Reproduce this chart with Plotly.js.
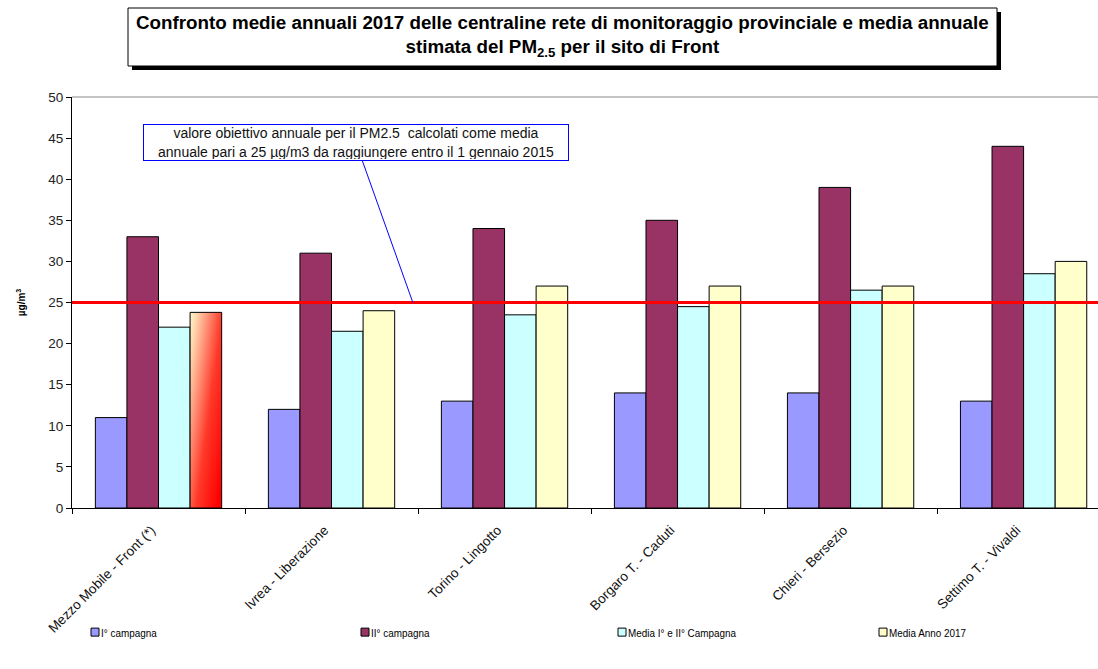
<!DOCTYPE html>
<html>
<head>
<meta charset="utf-8">
<script src="https://cdn.plot.ly/plotly-3.0.1.min.js"></script>
<style>html,body{margin:0;padding:0;background:#fff;}#chart{width:1098px;height:669px;}</style>
</head>
<body>
<div id="chart"></div>
<script>
const categories = ["Mezzo Mobile - Front (*)", "Ivrea - Liberazione", "Torino - Lingotto", "Borgaro T. - Caduti", "Chieri - Bersezio", "Settimo T. - Vivaldi"];
const seriesNames = ["I° campagna", "II° campagna", "Media I° e II° Campagna", "Media Anno 2017"];
const campagna1 = [11, 12, 13, 14, 14, 13];
const campagna2 = [33, 31, 34, 35, 39, 44];
const mediaCampagne = [22, 21.5, 23.5, 24.5, 26.5, 28.5];
const mediaAnno = [23.8, 24, 27, 27, 27, 30];
const limitValue = 25;
const yTicks = [0, 5, 10, 15, 20, 25, 30, 35, 40, 45, 50];

const colors = ["#9999FF", "#993366", "#CCFFFF", "#FFFFCC"];
const FONT = "Liberation Sans, Arial, sans-serif";

// plot area in pixels
const L = 72, R = 0, T = 97, B = 161, W = 1098, H = 669;
const pw = W - L - R, ph = H - T - B;
const px = x => (x - L) / pw;
const py = y => (H - B - y) / ph;

const allSeries = [campagna1, campagna2, mediaCampagne, mediaAnno];
const traces = allSeries.map((vals, i) => ({
  type: "bar",
  name: seriesNames[i],
  x: categories,
  y: vals,
  marker: {color: colors[i], line: {color: "#000", width: 1}},
  hoverinfo: "x+y+name"
}));

const layout = {
  width: W, height: H,
  margin: {l: L, r: R, t: T, b: B},
  paper_bgcolor: "#fff", plot_bgcolor: "#fff",
  font: {family: FONT, size: 13.5, color: "#222"},
  barmode: "group",
  bargap: 0.27,
  bargroupgap: 0,
  showlegend: true,
  legend: {
    orientation: "h", x: 0.003, xanchor: "left", y: -0.302, yanchor: "middle",
    font: {family: FONT, size: 11.8, color: "#000"},
    entrywidth: 190, entrywidthmode: "pixels", itemwidth: 30,
    traceorder: "normal"
  },
  xaxis: {
    type: "category",
    range: [-0.5, 5.43],
    showline: true, linecolor: "#000", linewidth: 1,
    ticks: "outside", ticklen: 5, tickcolor: "#000",
    tickson: "boundaries",
    tickangle: -45,
    ticklabelstandoff: 6,
    tickfont: {family: FONT, size: 13.5, color: "#111"},
    showgrid: false, zeroline: false, fixedrange: true
  },
  yaxis: {
    range: [0, 50],
    tickvals: yTicks,
    showline: true, linecolor: "#000", linewidth: 1,
    ticks: "outside", ticklen: 5, tickcolor: "#000",
    tickfont: {family: FONT, size: 13.5, color: "#222"},
    showgrid: false, zeroline: false, fixedrange: true,
    title: {text: "<b>µg/m<sup>3</sup></b>", font: {family: FONT, size: 10, color: "#000"}, standoff: 20}
  },
  shapes: [
    {type: "line", xref: "paper", yref: "paper", x0: 0, x1: 1, y0: 1, y1: 1, line: {color: "#888", width: 1}},
    {type: "line", xref: "paper", yref: "y", x0: 0, x1: 1, y0: limitValue, y1: limitValue, line: {color: "#FF0000", width: 3}},
    {type: "rect", xref: "paper", yref: "paper", x0: px(132), x1: px(1001), y0: py(70), y1: py(12), fillcolor: "#000", line: {width: 0}},
    {type: "rect", xref: "paper", yref: "paper", x0: px(128), x1: px(997), y0: py(66), y1: py(8), fillcolor: "#fff", line: {color: "#000", width: 1}}
  ],
  annotations: [
    {
      xref: "paper", yref: "paper", x: px(562.5), y: py(36), xanchor: "center", yanchor: "middle",
      text: "<b>Confronto medie annuali 2017 delle centraline rete di monitoraggio provinciale e media annuale<br>stimata del PM<sub>2.5</sub> per il sito di Front</b>",
      showarrow: false, font: {family: FONT, size: 18.8, color: "#000"}, align: "center"
    },
    {
      xref: "x", yref: "y", x: 1.47, y: limitValue,
      text: "valore obiettivo annuale per il PM2.5  calcolati come media<br>annuale pari a 25 µg/m3 da raggiungere entro il 1 gennaio 2015",
      showarrow: true, arrowhead: 0, arrowwidth: 1, arrowcolor: "#0000FF",
      ax: -57, ay: -160, axref: "pixel", ayref: "pixel",
      bordercolor: "#0000FF", borderwidth: 1, borderpad: 1, bgcolor: "#fff",
      width: 422, height: 33, align: "center",
      font: {family: FONT, size: 14, color: "#111"}
    }
  ]
};

Plotly.newPlot("chart", traces, layout, {displayModeBar: false, staticPlot: true}).then(gd => {
  const svgNS = "http://www.w3.org/2000/svg";
  const svg = gd.querySelector(".main-svg");
  let defs = svg.querySelector("defs");
  if (!defs) { defs = document.createElementNS(svgNS, "defs"); svg.insertBefore(defs, svg.firstChild); }
  const grad = document.createElementNS(svgNS, "linearGradient");
  grad.setAttribute("id", "frontGrad");
  grad.setAttribute("x1", "0"); grad.setAttribute("y1", "0");
  grad.setAttribute("x2", "1"); grad.setAttribute("y2", "0.85");
  [["0", "#FFF8C8"], ["0.14", "#FFD2AA"], ["0.35", "#FF8C72"], ["0.6", "#FF3A2A"], ["1", "#FF0000"]].forEach(([o, c]) => {
    const s = document.createElementNS(svgNS, "stop");
    s.setAttribute("offset", o); s.setAttribute("stop-color", c);
    grad.appendChild(s);
  });
  defs.appendChild(grad);
  const barTraces = gd.querySelectorAll(".barlayer .trace");
  const last = barTraces[3];
  if (last) {
    const p = last.querySelector(".point path");
    if (p) p.style.fill = "url(#frontGrad)";
  }
  // x tick labels: nudge to match reference placement
  gd.querySelectorAll(".xtick text").forEach(t => {
    const tr = t.getAttribute("transform") || "";
    t.setAttribute("transform", "translate(-7,2) " + tr);
  });
  // legend: no clipping, smaller symbols, condensed text, reference spacing
  gd.querySelectorAll(".legend [clip-path]").forEach(el => el.removeAttribute("clip-path"));
  const symbolCenters = [95, 365, 622, 883];
  const items = gd.querySelectorAll(".legend .traces");
  const gbox = gd.getBoundingClientRect();
  const sx = 0.84;
  items.forEach((it, i) => {
    const sym = it.querySelector(".legendpoints path");
    if (sym) {
      sym.setAttribute("d", "M4,4H-4V-4H4Z");
      sym.style.strokeWidth = "1px";
      sym.style.stroke = "#000";
    }
    const txt = it.querySelector(".legendtext");
    if (txt) {
      txt.setAttribute("transform", "scale(" + sx + ",1)");
      txt.setAttribute("x", String(26 / sx));
    }
    if (sym && symbolCenters[i] !== undefined) {
      const r = sym.getBoundingClientRect();
      const cur = r.left + r.width / 2 - gbox.left;
      const dx = symbolCenters[i] - cur;
      const m = /translate\(([-\d.]+)[ ,]+([-\d.]+)\)/.exec(it.getAttribute("transform") || "");
      if (m) it.setAttribute("transform", "translate(" + (parseFloat(m[1]) + dx) + "," + m[2] + ")");
    }
  });
});
</script>
</body>
</html>
